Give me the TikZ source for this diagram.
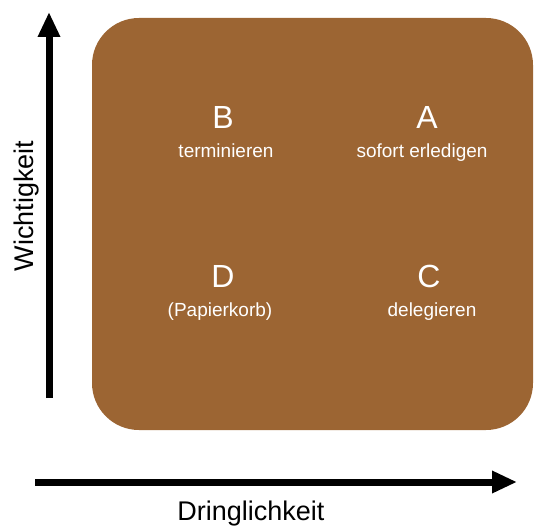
\documentclass[tikz,border=0pt]{standalone}
\usepackage{fontspec}
\setmainfont{Liberation Sans}
\usetikzlibrary{arrows.meta}
\definecolor{boxbrown}{RGB}{156,101,51}
\tikzset{
  axis/.style={line width=7pt, -{Triangle[length=25pt,width=21pt]}},
  letter/.style={text=white, font=\fontsize{32}{36}\selectfont, anchor=base, inner sep=0pt},
  action/.style={text=white, font=\fontsize{19}{22}\selectfont, anchor=base, inner sep=0pt},
  axislabel/.style={text=black, font=\fontsize{27}{30}\selectfont, anchor=base, inner sep=0pt}
}
\begin{document}
\begin{tikzpicture}[x=1pt,y=-1pt]
\useasboundingbox (0,0) rectangle (537,527);
\fill[boxbrown, rounded corners=47pt] (92,18) rectangle (533,430);
\node[letter] (B) at (223,128) {B};
\node[action] (Bt) at (226,157) {terminieren};
\node[letter] (A) at (427,128) {A};
\node[action] (At) at (422,157) {sofort erledigen};
\node[letter] (D) at (223,287) {D};
\node[action] (Dt) at (220,316) {(Papierkorb)};
\node[letter] (C) at (429,287) {C};
\node[action] (Ct) at (432,316) {delegieren};
\coordinate (vstart) at (49,398);
\coordinate (vend) at (49,12);
\coordinate (hstart) at (35,482);
\coordinate (hend) at (517,482);
\draw[axis] (vstart) -- (vend);
\draw[axis] (hstart) -- (hend);
\node[axislabel] (dring) at (251,520) {Dringlichkeit};
\node[axislabel, rotate=90] (wicht) at (33,206) {Wichtigkeit};
\end{tikzpicture}
\end{document}
